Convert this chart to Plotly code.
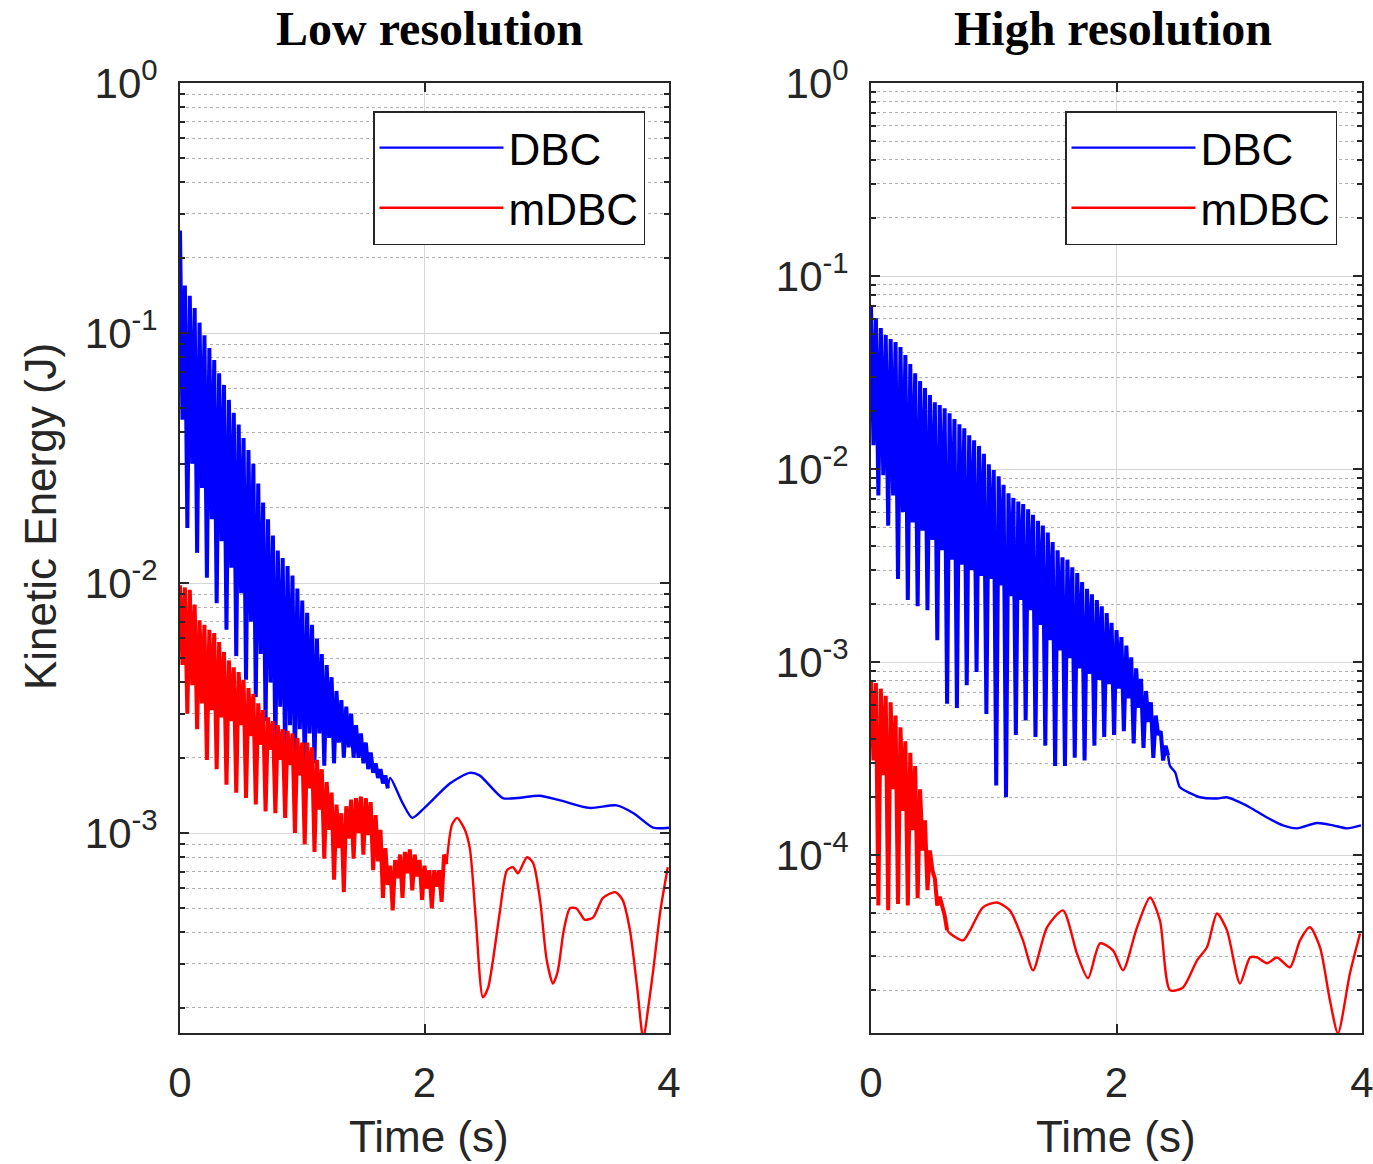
import plotly.graph_objects as go

# ---------------- data ----------------
OSC_DT = 0.04  # spacing between successive oscillation peaks (s)

# Low resolution, DBC: oscillating part (peaks / troughs), then smooth tail
DBC_LO_PEAKS = [0.257, 0.155, 0.141, 0.126, 0.110, 0.098, 0.087, 0.078, 0.069, 0.062,
                0.054, 0.048, 0.043, 0.038, 0.034, 0.030, 0.025, 0.021, 0.018, 0.0155,
                0.0135, 0.0126, 0.0117, 0.0107, 0.0095, 0.0085, 0.0076, 0.0068, 0.0060, 0.0052,
                0.0047, 0.0042, 0.0037, 0.0034, 0.0032, 0.0030, 0.0027, 0.0025, 0.0023, 0.0021,
                0.0019, 0.0018, 0.0017]
DBC_LO_TROUGHS = [0.045, 0.0166, 0.030, 0.0132, 0.024, 0.0105, 0.018, 0.0083, 0.0147, 0.0065,
                  0.0115, 0.0051, 0.0091, 0.0041, 0.0070, 0.0035, 0.0052, 0.0028, 0.0040, 0.0022,
                  0.0032, 0.0020, 0.0027, 0.0019, 0.0026, 0.00182, 0.0025, 0.0019, 0.0025, 0.00186,
                  0.0024, 0.0019, 0.0023, 0.0020, 0.0022, 0.0020, 0.0020, 0.0019, 0.0018, 0.00174,
                  0.00166, 0.00158, 0.00151]
DBC_LO_TAIL_T = [1.72, 1.82, 1.90, 2.00, 2.21, 2.37, 2.45, 2.64, 2.76, 2.94, 3.11, 3.35, 3.57, 3.71, 3.87, 4.0]
DBC_LO_TAIL_V = [0.00166, 0.00132, 0.00115, 0.00126, 0.00158, 0.00174, 0.0017, 0.00138, 0.00138, 0.00141,
                 0.00135, 0.00126, 0.00129, 0.0012, 0.00105, 0.00105]

# Low resolution, mDBC
MDBC_LO_PEAKS = [0.0098, 0.0096, 0.0094, 0.0082, 0.0071, 0.0068, 0.0065, 0.0063, 0.0058, 0.0053,
                 0.0049, 0.0046, 0.0044, 0.0041, 0.0038, 0.0036, 0.0033, 0.0031, 0.0029, 0.0028,
                 0.0027, 0.0026, 0.00256, 0.0025, 0.0024, 0.0023, 0.0023, 0.0022, 0.00196, 0.0018,
                 0.0016, 0.00145, 0.0013, 0.0012, 0.00128, 0.00136, 0.00138, 0.0014, 0.00138, 0.00133,
                 0.00118, 0.00103, 0.00087, 0.00074, 0.00078, 0.00082, 0.00084, 0.00086, 0.00082, 0.00078,
                 0.00074, 0.00071, 0.00071, 0.00071, 0.00082]
MDBC_LO_TROUGHS = [0.0047, 0.0030, 0.0039, 0.0026, 0.0033, 0.00196, 0.0031, 0.0018, 0.0029, 0.00156,
                   0.0028, 0.00145, 0.0027, 0.00138, 0.00244, 0.0013, 0.00225, 0.00122, 0.00215, 0.0012,
                   0.00196, 0.00115, 0.00187, 0.0010, 0.0017, 0.0009, 0.00151, 0.00084, 0.00124, 0.00079,
                   0.00103, 0.00065, 0.00087, 0.00058, 0.00095, 0.00079, 0.0010, 0.00082, 0.00098, 0.00071,
                   0.00077, 0.00055, 0.00062, 0.00049, 0.00066, 0.00055, 0.00069, 0.00059, 0.00067, 0.00054,
                   0.0006, 0.0005, 0.00061, 0.00053, 0.00075]
MDBC_LO_TAIL_T = [2.225, 2.266, 2.33, 2.372, 2.42, 2.478, 2.52, 2.56, 2.618, 2.675,
                  2.724, 2.765, 2.838, 2.888, 2.945, 3.0, 3.051, 3.09, 3.14, 3.19,
                  3.24, 3.27, 3.31, 3.38, 3.46, 3.56, 3.62, 3.68, 3.74, 3.79,
                  3.83, 3.87, 3.93, 3.99]
MDBC_LO_TAIL_V = [0.00108, 0.00115, 0.00103, 0.00086, 0.00045, 0.00022, 0.00024, 0.00031, 0.00049, 0.00071,
                  0.00073, 0.00069, 0.0008, 0.00076, 0.00054, 0.00031, 0.00025, 0.00028, 0.00041, 0.0005,
                  0.0005, 0.00048, 0.00045, 0.00046, 0.00055, 0.00058, 0.00054, 0.00041, 0.00024, 0.00015,
                  0.0002, 0.00028, 0.00049, 0.00073]

# High resolution, DBC
DBC_HI_PEAKS = [0.0708, 0.0605, 0.0538, 0.0495, 0.0472, 0.0455, 0.0429, 0.039, 0.035, 0.0314,
                0.0286, 0.0263, 0.0242, 0.0222, 0.0215, 0.0207, 0.0195, 0.0182, 0.0171, 0.0163,
                0.015, 0.0141, 0.0132, 0.012, 0.0106, 0.0099, 0.0092, 0.0083, 0.0075, 0.0071,
                0.0068, 0.0066, 0.0062, 0.0058, 0.0054, 0.0051, 0.0047, 0.0042, 0.0038, 0.0035,
                0.0034, 0.0031, 0.0029, 0.0026, 0.0024, 0.00225, 0.0021, 0.00195, 0.0018, 0.0016,
                0.00147, 0.00135, 0.00122, 0.00106, 0.00093, 0.00082, 0.00071, 0.00062, 0.00053, 0.00044,
                0.00037]
DBC_HI_TROUGHS = [0.0133, 0.0073, 0.0093, 0.0051, 0.0073, 0.0027, 0.006, 0.0021, 0.0053, 0.00195,
                  0.0048, 0.00186, 0.0043, 0.0013, 0.0038, 0.00061, 0.0034, 0.00058, 0.0032, 0.00076,
                  0.003, 0.00089, 0.0028, 0.00054, 0.0027, 0.00023, 0.0025, 0.0002, 0.0022, 0.00042,
                  0.0021, 0.0005, 0.00186, 0.00041, 0.00156, 0.00037, 0.0013, 0.00029, 0.00115, 0.00029,
                  0.00105, 0.00032, 0.00093, 0.00031, 0.00087, 0.00037, 0.00081, 0.00041, 0.00077, 0.00042,
                  0.00073, 0.00044, 0.00065, 0.00038, 0.00058, 0.00036, 0.00049, 0.00032, 0.00042, 0.00031,
                  0.00033]
DBC_HI_TAIL_T = [2.436, 2.477, 2.517, 2.6, 2.68, 2.82, 2.9, 3.006, 3.088, 3.226, 3.356, 3.47, 3.633, 3.764,
                 3.878, 3.992]
DBC_HI_TAIL_V = [0.00029, 0.00027, 0.000225, 0.00021, 0.0002, 0.000197, 0.0002, 0.000188, 0.000177,
                 0.000157, 0.000143, 0.000138, 0.000147, 0.000143, 0.000138, 0.000143]

# High resolution, mDBC
MDBC_HI_PEAKS = [0.00081, 0.00078, 0.00073, 0.00067, 0.00062, 0.00053, 0.00046, 0.00039, 0.00034, 0.00029,
                 0.00022, 0.000152, 0.000106, 0.000076, 0.000061, 0.000049]
MDBC_HI_TROUGHS = [0.00031, 0.000055, 0.00026, 0.000052, 0.00022, 0.000056, 0.00017, 0.000055, 0.000135,
                   0.00006, 0.000106, 0.000066, 0.000084, 0.000055, 0.000055, 0.000041]
MDBC_HI_TAIL_T = [0.644, 0.75, 0.807, 0.912, 1.026, 1.131, 1.238, 1.32, 1.434, 1.564,
                  1.678, 1.768, 1.866, 1.971, 2.053, 2.167, 2.273, 2.354, 2.436, 2.542,
                  2.656, 2.737, 2.819, 2.9, 3.006, 3.088, 3.145, 3.226, 3.308, 3.413,
                  3.495, 3.576, 3.658, 3.739, 3.804, 3.902, 3.984]
MDBC_HI_TAIL_V = [0.0000394, 0.0000363, 0.0000409, 0.0000538, 0.000057, 0.0000519, 0.0000363, 0.0000254,
                  0.0000424, 0.0000519, 0.000031, 0.0000231, 0.000035, 0.0000322, 0.0000254, 0.0000424,
                  0.0000605, 0.000046, 0.00002, 0.0000207, 0.0000286, 0.0000334, 0.00005, 0.0000409,
                  0.0000217, 0.0000296, 0.0000296, 0.0000276, 0.0000296, 0.0000263, 0.0000363, 0.0000424,
                  0.0000334, 0.0000177, 0.000012, 0.0000245, 0.0000394]

X_TICKS = [0, 2, 4]
Y_TICKS_LO = [1e-3, 1e-2, 1e-1, 1]
Y_TEXT_LO = ["10<sup>-3</sup>", "10<sup>-2</sup>", "10<sup>-1</sup>", "10<sup>0</sup>"]
Y_TICKS_HI = [1e-4, 1e-3, 1e-2, 1e-1, 1]
Y_TEXT_HI = ["10<sup>-4</sup>", "10<sup>-3</sup>", "10<sup>-2</sup>", "10<sup>-1</sup>", "10<sup>0</sup>"]
SERIES = ["DBC", "mDBC"]
TITLES = ["Low resolution", "High resolution"]

# ---------------- helpers ----------------
def interleave(peaks, troughs, dt):
    t, v = [], []
    for k, (p, q) in enumerate(zip(peaks, troughs)):
        t += [round(k * dt, 4), round(k * dt + dt / 2, 4)]
        v += [p, q]
    return t, v

BLUE = "#0000ff"
RED = "#ff0000"
AX = "#262626"
W, H = 1373, 1164

fig = go.Figure()

def add_series(name, color, peaks, troughs, tail_t, tail_v, xa, ya, legend):
    t, v = interleave(peaks, troughs, OSC_DT)
    fig.add_trace(go.Scatter(x=t, y=v, mode="lines", name=name, legend=legend, showlegend=False,
                             line=dict(color=color, width=4.0), xaxis=xa, yaxis=ya))
    fig.add_trace(go.Scatter(x=[t[-1]] + tail_t, y=[v[-1]] + tail_v, mode="lines", name=name,
                             showlegend=True, legend=legend,
                             line=dict(color=color, width=2.4, shape="spline", smoothing=0.7),
                             xaxis=xa, yaxis=ya))

add_series(SERIES[0], BLUE, DBC_LO_PEAKS, DBC_LO_TROUGHS, DBC_LO_TAIL_T, DBC_LO_TAIL_V, "x", "y", "legend")
add_series(SERIES[1], RED, MDBC_LO_PEAKS, MDBC_LO_TROUGHS, MDBC_LO_TAIL_T, MDBC_LO_TAIL_V, "x", "y", "legend")
add_series(SERIES[0], BLUE, DBC_HI_PEAKS, DBC_HI_TROUGHS, DBC_HI_TAIL_T, DBC_HI_TAIL_V, "x2", "y2", "legend2")
add_series(SERIES[1], RED, MDBC_HI_PEAKS, MDBC_HI_TROUGHS, MDBC_HI_TAIL_T, MDBC_HI_TAIL_V, "x2", "y2", "legend2")

FONT = "Liberation Sans, Arial, sans-serif"
tickfont = dict(family=FONT, size=42, color=AX)
MINOR_VALS = [m * 10.0 ** e for e in range(-6, 0) for m in range(2, 10)]

def xaxis(domain, anchor):
    return dict(domain=domain, anchor=anchor, range=[0, 4], tickvals=X_TICKS,
                showgrid=True, gridcolor="#d6d6d6", gridwidth=1, zeroline=False,
                ticks="inside", ticklen=9, tickwidth=1.5, tickcolor=AX, mirror="allticks",
                showline=True, linecolor=AX, linewidth=1.8, tickfont=tickfont,
                ticklabelstandoff=12, ticklabeloverflow="allow", automargin=False, fixedrange=True)

def yaxis(domain, anchor, rng, vals, text):
    return dict(domain=domain, anchor=anchor, type="log", range=rng, tickvals=vals, ticktext=text,
                showgrid=True, gridcolor="#d6d6d6", gridwidth=1, zeroline=False,
                ticks="inside", ticklen=9, tickwidth=1.5, tickcolor=AX, mirror="allticks",
                showline=True, linecolor=AX, linewidth=1.8, tickfont=tickfont,
                ticklabelstandoff=12, ticklabeloverflow="allow", automargin=False, fixedrange=True,
                minor=dict(tickmode="array", tickvals=MINOR_VALS, ticks="inside", ticklen=5,
                           tickcolor=AX, showgrid=True, griddash="dot", gridcolor="#b0b0b0",
                           gridwidth=1))

YD = [1 - 1033 / H, 1 - 83 / H]
LEG = dict(yanchor="top", xanchor="left", y=1 - 111 / H, bgcolor="white", bordercolor=AX,
           borderwidth=1.5, font=dict(family=FONT, size=44, color="black"), itemwidth=124,
           tracegroupgap=0)
fig.update_layout(
    width=W, height=H, margin=dict(l=0, r=0, t=0, b=0),
    paper_bgcolor="white", plot_bgcolor="white",
    xaxis=xaxis([180 / W, 669 / W], "y"),
    yaxis=yaxis(YD, "x", [-3.8, 0], Y_TICKS_LO, Y_TEXT_LO),
    xaxis2=xaxis([871 / W, 1362 / W], "y2"),
    yaxis2=yaxis(YD, "x2", [-4.92, 0], Y_TICKS_HI, Y_TEXT_HI),
    legend=dict(LEG, x=373 / W),
    legend2=dict(LEG, x=1065 / W),
    showlegend=True,
)

ann = []
for title, cx in zip(TITLES, [429, 1113]):
    ann.append(dict(text="<b>" + title + "</b>", x=cx / W, y=1 - 28 / H, xref="paper", yref="paper",
                    showarrow=False, xanchor="center", yanchor="middle",
                    font=dict(family="Liberation Serif, Times New Roman, serif", size=48, color="black")))
for cx in [429, 1116]:
    ann.append(dict(text="Time (s)", x=cx / W, y=1 - 1136 / H, xref="paper", yref="paper",
                    showarrow=False, xanchor="center", yanchor="middle",
                    font=dict(family=FONT, size=44, color=AX)))
ann.append(dict(text="Kinetic Energy (J)", x=40 / W, y=1 - 517 / H, xref="paper", yref="paper",
                showarrow=False, xanchor="center", yanchor="middle", textangle=-90,
                font=dict(family=FONT, size=44, color=AX)))
fig.update_layout(annotations=ann)

fig.write_html("out.html", config={"displayModeBar": False},
               post_script="document.body.style.margin='0';")
